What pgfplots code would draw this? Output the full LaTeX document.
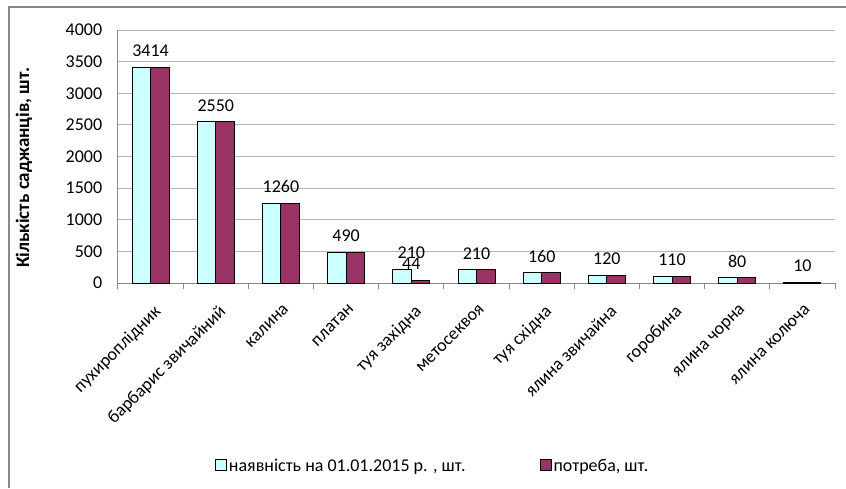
\documentclass[border=0pt]{standalone}
\usepackage{pgfplots}
\pgfplotsset{compat=1.18}
\usepackage{fontspec}
\setmainfont{Carlito}
\definecolor{cyanbar}{HTML}{CCFFFF}
\definecolor{plumbar}{HTML}{993366}
\definecolor{gridgray}{HTML}{B4B4B4}
\definecolor{axisgray}{HTML}{888888}

\begin{document}
\begin{tikzpicture}[x=1pt,y=1pt]
\useasboundingbox (0,0) rectangle (846,488);
\fill[white] (0,0) rectangle (846,488);
\draw[axisgray, line width=2pt] (8.5,0) -- (8.5,481) -- (846,481);
\begin{axis}[
    at={(118pt,205pt)}, anchor=south west,
    scale only axis,
    width=717pt, height=253pt,
    font=\fontsize{18}{21}\selectfont,
    tick label style={font=\fontsize{18}{21}\selectfont},
    /pgf/number format/assume math mode=true,
    /pgf/number format/1000 sep={},
    xmin=-0.5, xmax=10.5,
    ymin=0, ymax=4000,
    ytick={0,500,...,4000},
    xtick={0,...,10},
    xticklabels={пухироплідник, барбарис звичайний, калина, платан, туя західна,
        метосеквоя, туя східна, ялина звичайна, горобина, ялина чорна, ялина колюча},
    xticklabel style={rotate=45, anchor=north east, inner sep=1pt, xshift=-9pt, yshift=-12pt},
    yticklabel style={xshift=-8pt},
    minor xtick={-0.5,0.5,...,10.5},
    major x tick style={draw=none},
    minor tick length=6pt,
    tick align=outside,
    major y tick style={draw=none},
    ymajorgrids,
    grid style={gridgray, line width=1pt},
    axis x line*=bottom, axis y line*=left,
    axis line style={axisgray, line width=1pt},
    minor x tick style={axisgray, line width=1pt},
    ylabel={\bfseries Кількість саджанців, шт.},
    every axis y label/.style={at={(axis description cs:-0.131,0.455)}, rotate=90, anchor=center,
        font=\fontsize{19}{22}\selectfont},
    nodes near coords style={font=\fontsize{18}{21}\selectfont, yshift=7pt},
    legend columns=2,
    legend style={draw=none, fill=none, at={(axis description cs:0.135,-0.723)}, anchor=west,
        /tikz/every even column/.append style={column sep=72pt},
        font=\fontsize{18}{21}\selectfont, inner sep=0pt},
    legend image code/.code={\draw[#1, line width=1pt] (0pt,-5pt) rectangle (11pt,6pt);},
    clip=false,
]
% наявність на 01.01.2015
\addplot[ybar, bar width=18.5pt, bar shift=-9.25pt, draw=black, line width=1pt, fill=cyanbar,
    nodes near coords, point meta=explicit symbolic]
    coordinates {(0,3414)[] (1,2550)[] (2,1260)[] (3,490)[] (4,210)[210] (5,210)[]
                 (6,160)[] (7,120)[] (8,110)[] (9,80)[] (10,10)[]};
\addlegendentry{наявність на 01.01.2015 р. , шт.}
% потреба
\addplot[ybar, bar width=18.5pt, bar shift=9.25pt, draw=black, line width=1pt, fill=plumbar,
    nodes near coords, point meta=explicit symbolic]
    coordinates {(0,3414)[] (1,2550)[] (2,1260)[] (3,490)[] (4,44)[44] (5,210)[]
                 (6,160)[] (7,120)[] (8,110)[] (9,80)[] (10,10)[]};
\addlegendentry{потреба, шт.}
% спільні підписи
\addplot[draw=none, mark=none, forget plot, nodes near coords, point meta=explicit symbolic]
    coordinates {(0,3414)[3414] (1,2550)[2550] (2,1260)[1260] (3,490)[490] (5,210)[210]
                 (6,160)[160] (7,120)[120] (8,110)[110] (9,80)[80] (10,10)[10]};
\end{axis}
\end{tikzpicture}
\end{document}
